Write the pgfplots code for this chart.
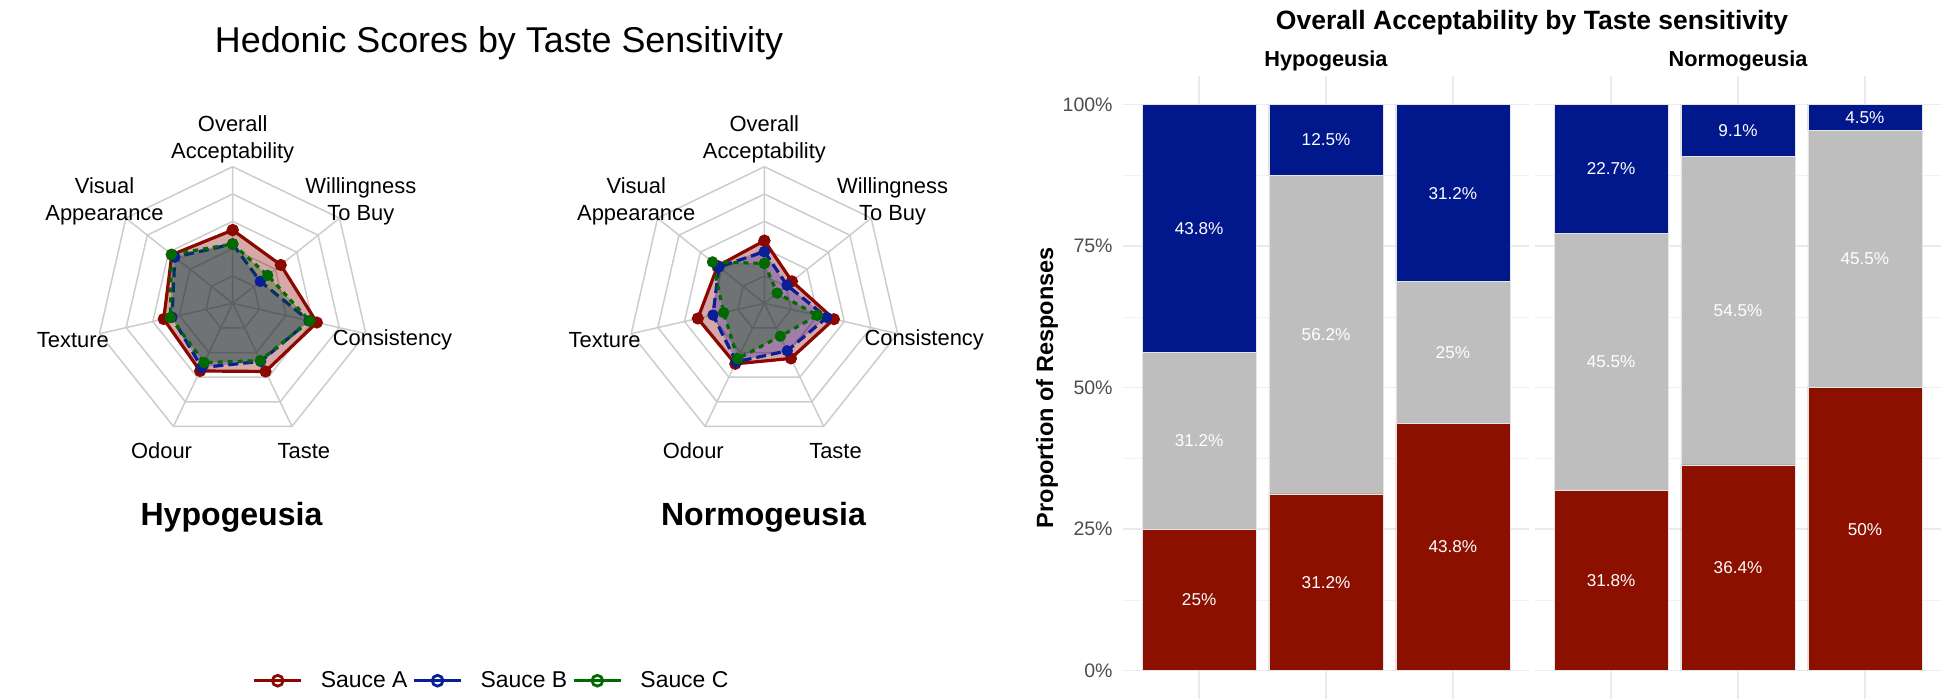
\documentclass[border=0pt]{standalone}
\usepackage{pgfplots}
\pgfplotsset{compat=1.18}
\usepackage{pgfplotstable}
\usepackage{fontspec}
\setmainfont{Liberation Sans}

\definecolor{cA}{RGB}{139,8,0}
\definecolor{cB}{RGB}{10,30,150}
\definecolor{cC}{RGB}{0,105,0}
\definecolor{fA}{RGB}{139,0,0}
\definecolor{fB}{RGB}{0,0,170}
\definecolor{fC}{RGB}{0,90,0}
\definecolor{barred}{RGB}{139,16,0}
\definecolor{barblue}{RGB}{0,24,140}
\definecolor{bargray}{RGB}{190,190,190}
\definecolor{ringgray}{RGB}{204,204,204}
\definecolor{gridmaj}{RGB}{235,235,235}
\definecolor{gridmin}{RGB}{242,242,242}
\definecolor{ticktxt}{RGB}{77,77,77}

% radar data: angle (deg), radius (0-5)
\pgfplotstableread{
ang A B C
90 2.68 2.17 2.17
38.571 2.25 1.29 1.64
-12.857 3.16 2.87 2.89
-64.286 2.77 2.36 2.33
-115.714 2.75 2.61 2.41
-167.143 2.59 2.28 2.34
141.429 2.85 2.71 2.87
90 2.68 2.17 2.17
}\hypo
\pgfplotstableread{
ang A B C
90 2.29 1.89 1.46
38.571 1.29 1.06 0.60
-12.857 2.61 2.34 1.99
-64.286 2.24 1.93 1.34
-115.714 2.46 2.38 2.25
-167.143 2.50 1.93 1.53
141.429 2.19 2.13 2.43
90 2.29 1.89 1.46
}\normo
\pgfplotstableread{
ang r1 r2 r3 r4 r5
90 1 2 3 4 5
38.571 1 2 3 4 5
-12.857 1 2 3 4 5
-64.286 1 2 3 4 5
-115.714 1 2 3 4 5
-167.143 1 2 3 4 5
141.429 1 2 3 4 5
90 1 2 3 4 5
}\ring
\pgfplotstableread{
ang r
90 5
90 0
38.571 5
38.571 0
-12.857 5
-12.857 0
-64.286 5
-64.286 0
-115.714 5
-115.714 0
-167.143 5
-167.143 0
141.429 5
141.429 0
}\spokes

% bar data (percent)
\pgfplotstableread{
x red grey blue
0 25 31.25 43.75
1 31.25 56.25 12.5
2 43.75 25 31.25
}\barH
\pgfplotstableread{
x red grey blue
0 31.82 45.45 22.73
1 36.36 54.55 9.09
2 50 45.45 4.55
}\barN
\pgfplotstableread{
x y lab
0 12.5 25\%
0 40.625 31.2\%
0 78.125 43.8\%
1 15.625 31.2\%
1 59.375 56.2\%
1 93.75 12.5\%
2 21.875 43.8\%
2 56.25 25\%
2 84.375 31.2\%
}\labH
\pgfplotstableread{
x y lab
0 15.91 31.8\%
0 54.545 45.5\%
0 88.635 22.7\%
1 18.18 36.4\%
1 63.635 54.5\%
1 95.455 9.1\%
2 25 50\%
2 72.725 45.5\%
2 97.725 4.5\%
}\labN

\pgfplotsset{
  radar/.style={anchor=center, x=13.66bp, y=13.66bp, xmin=-5, xmax=5, ymin=-5, ymax=5,
    hide axis, clip=false},
  barpanel/.style={anchor=south west, scale only axis, width=203bp, height=311.3bp,
    xmin=-0.6, xmax=2.6, ymin=-5, ymax=105,
    axis line style={draw=none}, tick style={draw=none},
    xtick={0,1,2}, xticklabels={,,},
    ytick={0,25,50,75,100}, minor ytick={12.5,37.5,62.5,87.5},
    xmajorgrids, ymajorgrids, yminorgrids,
    major grid style={gridmaj, line width=0.7bp},
    minor grid style={gridmin, line width=0.4bp},
    yticklabel style={font=\fontsize{9.8}{11}\selectfont, text=ticktxt, inner sep=0pt, xshift=-5bp},
    clip=false},
  barlabels/.style={anchor=south west, scale only axis, width=203bp, height=311.3bp,
    xmin=-0.6, xmax=2.6, ymin=-5, ymax=105, hide axis, clip=false},
}

\newcommand{\radarbody}[1]{%
  \addplot[data cs=polar, ringgray, line width=0.75bp] table[x=ang,y=r1]{\ring};
  \addplot[data cs=polar, ringgray, line width=0.75bp] table[x=ang,y=r2]{\ring};
  \addplot[data cs=polar, ringgray, line width=0.75bp] table[x=ang,y=r3]{\ring};
  \addplot[data cs=polar, ringgray, line width=0.75bp] table[x=ang,y=r4]{\ring};
  \addplot[data cs=polar, ringgray, line width=0.75bp] table[x=ang,y=r5]{\ring};
  \addplot[data cs=polar, ringgray, line width=0.75bp] table[x=ang,y=r]{\spokes};
  \addplot[data cs=polar, draw=none, fill=fA, fill opacity=0.34] table[x=ang,y=A]{#1};
  \addplot[data cs=polar, cA, line width=1.6bp, mark=*, mark size=2.2bp] table[x=ang,y=A]{#1};
  \addplot[data cs=polar, draw=none, fill=fB, fill opacity=0.25] table[x=ang,y=B]{#1};
  \addplot[data cs=polar, cB, line width=1.6bp, dash pattern=on 5bp off 2.5bp, mark=*, mark size=2bp, mark options={solid}] table[x=ang,y=B]{#1};
  \addplot[data cs=polar, draw=none, fill=fC, fill opacity=0.31] table[x=ang,y=C]{#1};
  \addplot[data cs=polar, cC, line width=1.6bp, dash pattern=on 2.5bp off 2.5bp, mark=*, mark size=2bp, mark options={solid}] table[x=ang,y=C]{#1};
  \begin{scope}[font=\fontsize{11}{13.5}\selectfont, align=center]
  \node at (axis cs:0,6) {Overall\\Acceptability};
  \node at (axis cs:4.691,3.741) {Willingness\\To Buy};
  \node at (axis cs:5.849,-1.335) {Consistency};
  \node at (axis cs:2.603,-5.406) {Taste};
  \node at (axis cs:-2.603,-5.406) {Odour};
  \node at (axis cs:-5.849,-1.335) {Texture};
  \node at (axis cs:-4.691,3.741) {Visual\\Appearance};
  \end{scope}
}

\newcommand{\barbody}[1]{%
  \addplot[fill=barred, draw=white!80!gray, line width=0.25bp] table[x=x,y=red]{#1};
  \addplot[fill=bargray, draw=white!80!gray, line width=0.25bp] table[x=x,y=grey]{#1};
  \addplot[fill=barblue, draw=white!80!gray, line width=0.25bp] table[x=x,y=blue]{#1};
}

\begin{document}
\begin{tikzpicture}
\path[use as bounding box] (0,0) rectangle (977.5bp,349.5bp);

% ---------- left: radar charts ----------
\node[anchor=base, font=\fontsize{18}{21}\selectfont] at (249.5bp,323.2bp) {Hedonic Scores by Taste Sensitivity};

\begin{axis}[radar, at={(116.35bp,197.85bp)}]
\radarbody{\hypo}
\end{axis}
\begin{axis}[radar, at={(382.2bp,197.85bp)}]
\radarbody{\normo}
\end{axis}

\node[anchor=base, font=\bfseries\fontsize{16.1}{19}\selectfont] at (115.75bp,86.65bp) {Hypogeusia};
\node[anchor=base, font=\bfseries\fontsize{16.1}{19}\selectfont] at (381.75bp,86.65bp) {Normogeusia};

% legend
\begin{axis}[at={(245.75bp,9.15bp)}, anchor=center, hide axis, scale only axis,
  width=1bp, height=1bp, xmin=0, xmax=1, ymin=0, ymax=1,
  legend columns=3,
  legend style={at={(0.5,0.5)}, anchor=center, draw=none, fill=none,
    font=\fontsize{11.5}{13}\selectfont, nodes={inner sep=1bp},
    /tikz/every odd column/.append style={column sep=8bp},
    /tikz/every even column/.append style={column sep=1.5bp}},
  legend image code/.code={\draw[#1, mark repeat=2, mark phase=2] plot coordinates {(0bp,0bp) (11.75bp,0bp) (23.5bp,0bp)};}]
\addlegendimage{cA, line width=1.6bp, mark=o, mark size=2.7bp, mark options={line width=1.4bp}}
\addlegendentry{Sauce A}
\addlegendimage{cB, line width=1.6bp, mark=o, mark size=2.7bp, mark options={line width=1.4bp}}
\addlegendentry{Sauce B}
\addlegendimage{cC, line width=1.6bp, mark=o, mark size=2.7bp, mark options={line width=1.4bp}}
\addlegendentry{Sauce C}
\end{axis}

% ---------- right: stacked bars ----------
\node[anchor=base, font=\bfseries\fontsize{13.3}{16}\selectfont] at (766bp,334.5bp) {Overall Acceptability by Taste sensitivity};

\begin{axis}[barpanel, at={(561.5bp,0bp)}, ybar stacked, bar width=0.9,
  yticklabels={0\%,25\%,50\%,75\%,100\%},
  ylabel={Proportion of Responses},
  ylabel style={at={(axis description cs:-0.1872,0.5)}, anchor=center, rotate=0,
    font=\bfseries\fontsize{11.8}{14}\selectfont}]
\barbody{\barH}
\end{axis}
\begin{axis}[barlabels, at={(561.5bp,0bp)}]
\addplot[draw=none, mark=none, nodes near coords, point meta=explicit symbolic,
  nodes near coords style={anchor=center, text=white, inner sep=0pt, font=\fontsize{8.6}{10}\selectfont}]
  table[x=x,y=y,meta=lab]{\labH};
\end{axis}

\begin{axis}[barpanel, at={(767.5bp,0bp)}, ybar stacked, bar width=0.9,
  yticklabels={,,,,}]
\barbody{\barN}
\end{axis}
\begin{axis}[barlabels, at={(767.5bp,0bp)}]
\addplot[draw=none, mark=none, nodes near coords, point meta=explicit symbolic,
  nodes near coords style={anchor=center, text=white, inner sep=0pt, font=\fontsize{8.6}{10}\selectfont}]
  table[x=x,y=y,meta=lab]{\labN};
\end{axis}

\node[anchor=base, font=\bfseries\fontsize{10.9}{13}\selectfont] at (663bp,316.15bp) {Hypogeusia};
\node[anchor=base, font=\bfseries\fontsize{10.9}{13}\selectfont] at (869bp,316.15bp) {Normogeusia};
\end{tikzpicture}
\end{document}
